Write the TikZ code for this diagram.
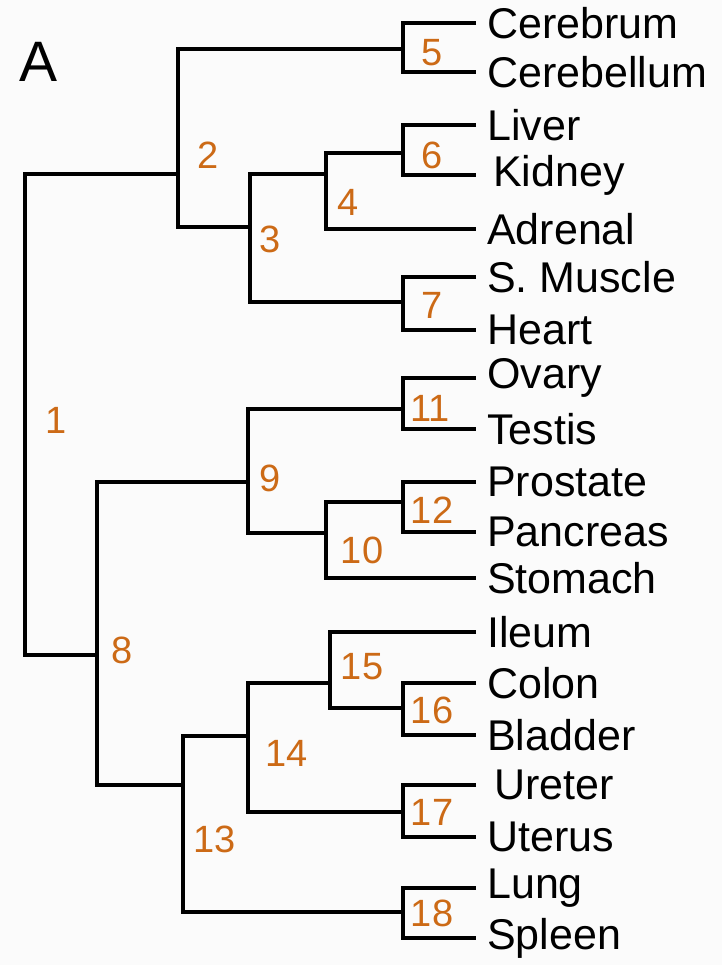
\documentclass[tikz,border=0pt]{standalone}
\usepackage{fontspec}
\setmainfont{Liberation Sans}
\definecolor{numorange}{RGB}{204,106,22}
\definecolor{bgcol}{RGB}{251,251,251}
\begin{document}
\begin{tikzpicture}[x=1pt,y=-1pt,
  branch/.style={line width=3.6pt,black},
  leaflabel/.style={anchor=west,inner sep=0pt,font=\fontsize{43}{43}\selectfont},
  numlabel/.style={inner sep=0pt,text=numorange,font=\fontsize{38}{38}\selectfont}]
\fill[bgcol] (0,0) rectangle (722,965);
\useasboundingbox (0,0) rectangle (722,965);
% leaves
\foreach \n/\y/\xx/\t in {1/23/487/Cerebrum,2/72/487/Cerebellum,3/125/487/Liver,4/175/493/Kidney,5/229/487/Adrenal,6/277/487/S. Muscle,7/330/487/Heart,8/378/487/Ovary,9/429/487/Testis,10/482/487/Prostate,11/532/487/Pancreas,12/578/487/Stomach,13/632/487/Ileum,14/683/487/Colon,15/735/487/Bladder,16/785/494/Ureter,17/837/487/Uterus,18/888/487/Lung,19/938/487/Spleen}{
  \coordinate (L\n) at (476,\y);
  \node[leaflabel] (T\n) at (\xx,\y) {\t};
}
% internal nodes
\coordinate (n1) at (25,420);
\coordinate (n2) at (178,174);
\coordinate (n3) at (250,227);
\coordinate (n4) at (326,174);
\coordinate (n5) at (403,49);
\coordinate (n6) at (403,153);
\coordinate (n7) at (403,302);
\coordinate (n8) at (97,655);
\coordinate (n9) at (248,482);
\coordinate (n10) at (326,533);
\coordinate (n11) at (403,409);
\coordinate (n12) at (403,502);
\coordinate (n13) at (183,785);
\coordinate (n14) at (248,736);
\coordinate (n15) at (330,683);
\coordinate (n16) at (403,708);
\coordinate (n17) at (403,812);
\coordinate (n18) at (403,912);
% branches
\draw[branch] (L1) -| (n5) |- (L2);
\draw[branch] (L3) -| (n6) |- (L4);
\draw[branch] (n6) -| (n4) |- (L5);
\draw[branch] (L6) -| (n7) |- (L7);
\draw[branch] (n4) -| (n3) |- (n7);
\draw[branch] (n5) -| (n2) |- (n3);
\draw[branch] (L8) -| (n11) |- (L9);
\draw[branch] (L10) -| (n12) |- (L11);
\draw[branch] (n12) -| (n10) |- (L12);
\draw[branch] (n11) -| (n9) |- (n10);
\draw[branch] (L14) -| (n16) |- (L15);
\draw[branch] (L13) -| (n15) |- (n16);
\draw[branch] (L16) -| (n17) |- (L17);
\draw[branch] (n15) -| (n14) |- (n17);
\draw[branch] (L18) -| (n18) |- (L19);
\draw[branch] (n14) -| (n13) |- (n18);
\draw[branch] (n9) -| (n8) |- (n13);
\draw[branch] (n2) -| (n1) |- (n8);
% numbers
\node[numlabel] (N1) at (56,420) {1};
\node[numlabel] (N2) at (208,155) {2};
\node[numlabel] (N3) at (270,239) {3};
\node[numlabel] (N4) at (348,202) {4};
\node[numlabel] (N5) at (432,53) {5};
\node[numlabel] (N6) at (432,155) {6};
\node[numlabel] (N7) at (432,305) {7};
\node[numlabel] (N8) at (122,650) {8};
\node[numlabel] (N9) at (270,478) {9};
\node[numlabel] (N10) at (362,550) {10};
\node[numlabel] (N11) at (430,408) {11};
\node[numlabel] (N12) at (432,510) {12};
\node[numlabel] (N13) at (215,839) {13};
\node[numlabel] (N14) at (287,753) {14};
\node[numlabel] (N15) at (362,667) {15};
\node[numlabel] (N16) at (432,710) {16};
\node[numlabel] (N17) at (432,812) {17};
\node[numlabel] (N18) at (432,913) {18};
\node[inner sep=0pt,font=\fontsize{57}{57}\selectfont] (A) at (39,62) {A};
\end{tikzpicture}
\end{document}
